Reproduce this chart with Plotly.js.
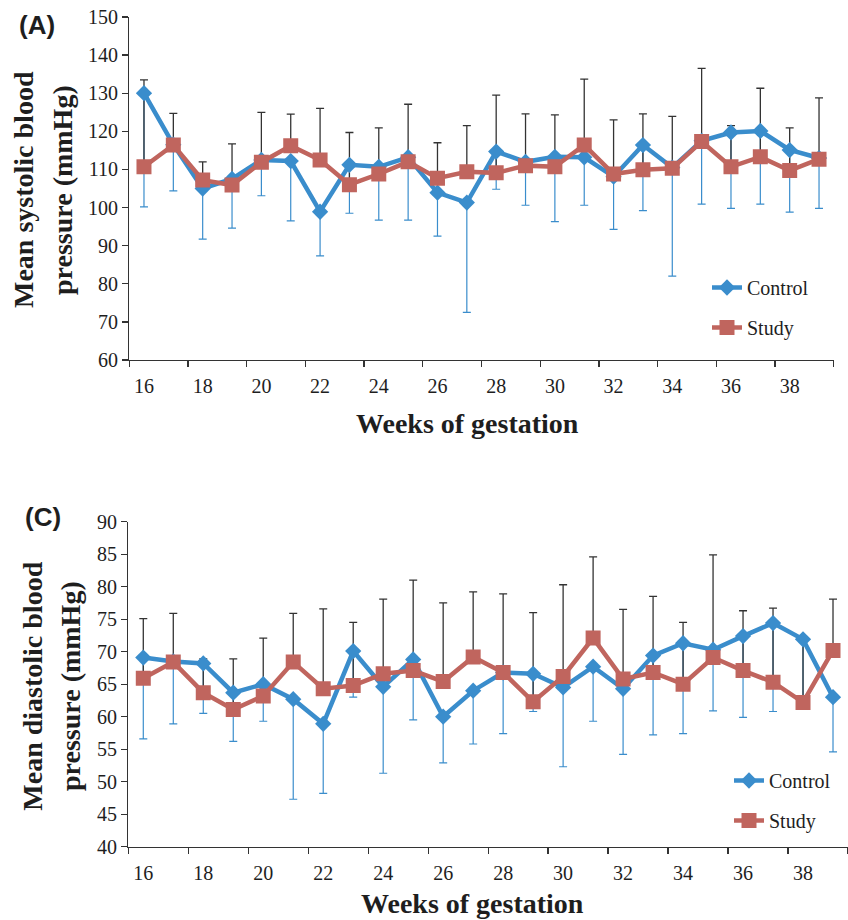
<!DOCTYPE html>
<html>
<head>
<meta charset="utf-8">
<script src="https://cdn.plot.ly/plotly-3.0.1.min.js"></script>
<style>
html,body{margin:0;padding:0;background:#fff;}
#chart{width:848px;height:920px;}
#chart text:not(.annotation-text),
#chart [class*="axislayer"] text,
#chart g.xtick text, #chart g.x2tick text, #chart g.ytick text, #chart g.y2tick text,
#chart text.legendtext { font-family: 'Liberation Serif', 'Times New Roman', serif !important; }
</style>
</head>
<body>
<div id="chart"></div>
<script>
// ---- data ----
const weeks = [16,17,18,19,20,21,22,23,24,25,26,27,28,29,30,31,32,33,34,35,36,37,38,39];
const weekTickVals = [16,18,20,22,24,26,28,30,32,34,36,38];
const weekTickText = ['16','18','20','22','24','26','28','30','32','34','36','38'];

// (A) systolic
const sbpControl = [130.0,116.5,105.0,107.5,112.5,112.2,98.9,111.2,110.7,113.2,103.9,101.3,114.7,112.0,113.3,113.2,108.1,116.4,110.5,117.5,119.7,120.1,115.1,113.0];
const sbpStudy   = [110.7,116.4,107.2,105.9,111.9,116.2,112.5,106.0,108.8,112.0,107.7,109.4,109.1,111.0,110.7,116.4,108.8,109.9,110.3,117.3,110.7,113.3,109.7,112.7];
const sbpUpper   = [133.5,124.7,112.0,116.7,125.0,124.5,126.0,119.7,120.9,127.1,117.0,121.5,129.5,124.6,124.3,133.7,123.0,124.6,123.9,136.5,121.5,131.3,120.9,128.8];
const sbpLower   = [100.2,104.4,91.7,94.6,103.1,96.5,87.3,98.5,96.7,96.7,92.5,72.5,104.8,100.6,96.3,100.6,94.3,99.2,82.0,100.9,99.8,100.9,98.8,99.8];

// (C) diastolic
const dbpControl = [69.1,68.5,68.2,63.7,65.0,62.7,58.9,70.1,64.6,68.8,60.0,64.0,66.8,66.6,64.5,67.7,64.3,69.4,71.3,70.3,72.4,74.4,71.9,63.0];
const dbpStudy   = [65.9,68.4,63.7,61.1,63.2,68.4,64.3,64.8,66.6,67.1,65.4,69.2,66.8,62.3,66.2,72.1,65.8,66.8,65.0,69.1,67.1,65.3,62.2,70.2];
const dbpUpper   = [75.1,75.9,68.9,68.9,72.1,75.9,76.6,74.5,78.1,81.0,77.5,79.2,78.9,76.0,80.3,84.6,76.5,78.5,74.5,84.9,76.3,76.7,71.9,78.1];
const dbpLower   = [56.6,58.9,60.5,56.2,59.3,47.3,48.2,63.0,51.3,59.5,52.9,55.8,57.4,60.8,52.3,59.3,54.2,57.2,57.4,60.9,59.9,60.8,62.5,54.6];

// ---- style ----
const W = 848, H = 920;
const px = v => v / W, py = v => 1 - v / H;
const BLUE = '#3a8dcc', RED = '#c0655e', DARK = '#333333', TXT = '#1e1e1e';
const SERIF = 'Liberation Serif, serif';
const SANS = 'Liberation Sans, sans-serif';
const zeros = weeks.map(() => 0);
const boundTicks = weekTickVals.map(w => w - 0.5).concat([weeks[weeks.length - 1] + 0.5]);

function panelTraces(ctrl, study, upper, lower, xa, ya, leg) {
  return [
    { x: weeks, y: ctrl, xaxis: xa, yaxis: ya, mode: 'markers', showlegend: false, hoverinfo: 'skip',
      marker: { size: 1, opacity: 0 },
      error_y: { type: 'data', symmetric: false, array: zeros,
        arrayminus: ctrl.map((v, i) => v - lower[i]), color: BLUE, thickness: 1.2, width: 4 } },
    { x: weeks, y: study, xaxis: xa, yaxis: ya, mode: 'markers', showlegend: false, hoverinfo: 'skip',
      marker: { size: 1, opacity: 0 },
      error_y: { type: 'data', symmetric: false, array: upper.map((v, i) => v - study[i]),
        arrayminus: zeros, color: DARK, thickness: 1.3, width: 4 } },
    { x: weeks, y: ctrl, xaxis: xa, yaxis: ya, mode: 'lines+markers', name: 'Control',
      legend: leg, legendgroup: leg + 'c',
      line: { color: BLUE, width: 4.5 }, marker: { symbol: 'diamond', size: 12.5, color: BLUE } },
    { x: weeks, y: study, xaxis: xa, yaxis: ya, mode: 'lines+markers', name: 'Study',
      legend: leg, legendgroup: leg + 's',
      line: { color: RED, width: 4.5 }, marker: { symbol: 'square', size: 15, color: RED } }
  ];
}

const traces = [].concat(
  panelTraces(sbpControl, sbpStudy, sbpUpper, sbpLower, 'x', 'y', 'legend'),
  panelTraces(dbpControl, dbpStudy, dbpUpper, dbpLower, 'x2', 'y2', 'legend2')
);

const tickFont = { family: SERIF, size: 20, color: TXT };

function xAxis(domain, anchor) {
  return {
    domain: domain, anchor: anchor, range: [15.5, 39.5], showgrid: false, zeroline: false,
    showline: true, linecolor: DARK, linewidth: 1.3,
    tickmode: 'array', tickvals: weekTickVals, ticktext: weekTickText,
    ticks: 'outside', ticklen: 8, tickcolor: 'rgba(0,0,0,0)',
    tickfont: tickFont,
    minor: { tickmode: 'array', tickvals: boundTicks, ticks: 'outside', ticklen: 6, tickcolor: DARK, tickwidth: 1.3, showgrid: false },
    fixedrange: true
  };
}
function yAxis(domain, anchor, range, dtick) {
  return {
    domain: domain, anchor: anchor, range: range, dtick: dtick, tick0: range[0], tickmode: 'linear',
    showgrid: false, zeroline: false,
    showline: true, linecolor: DARK, linewidth: 1.3,
    ticks: 'outside', ticklen: 6, tickcolor: DARK, tickwidth: 1.3,
    tickfont: tickFont, fixedrange: true
  };
}

const legendBase = {
  bgcolor: 'rgba(0,0,0,0)', font: { family: SERIF, size: 20, color: TXT },
  traceorder: 'grouped', tracegroupgap: 11, xanchor: 'left', yanchor: 'top', itemsizing: 'trace'
};

function ann(text, x, y, size, family, angle) {
  const a = { text: text, xref: 'paper', yref: 'paper', x: px(x), y: py(y), xanchor: 'center', yanchor: 'middle',
    showarrow: false, font: { family: family, size: size, color: TXT } };
  if (angle) a.textangle = angle;
  return a;
}

const layout = {
  width: W, height: H, margin: { l: 0, r: 0, t: 0, b: 0 },
  paper_bgcolor: '#fff', plot_bgcolor: '#fff',
  font: { family: SERIF, size: 20, color: TXT },
  xaxis: xAxis([px(129.3), px(833.7)], 'y'),
  yaxis: yAxis([py(360), py(17)], 'x', [60, 150], 10),
  xaxis2: xAxis([px(128.3), 1.0], 'y2'),
  yaxis2: yAxis([py(846.7), py(521.7)], 'x2', [40, 90], 5),
  legend: Object.assign({}, legendBase, { x: px(707), y: py(268) }),
  legend2: Object.assign({}, legendBase, { x: px(729), y: py(761) }),
  annotations: [
    ann('<b>(A)</b>', 37, 25, 26, SANS),
    ann('<b>(C)</b>', 43, 517, 26, SANS),
    ann('<b>Mean systolic blood</b>', 23, 190, 28, SERIF, -90),
    ann('<b>pressure (mmHg)</b>', 62, 190, 28, SERIF, -90),
    ann('<b>Mean diastolic blood</b>', 31.7, 686, 28, SERIF, -90),
    ann('<b>pressure (mmHg)</b>', 70, 686, 28, SERIF, -90),
    ann('<b>Weeks of gestation</b>', 467, 423, 28, SERIF),
    ann('<b>Weeks of gestation</b>', 473, 903, 28, SERIF)
  ],
  showlegend: true
};

Plotly.newPlot('chart', traces, layout, { staticPlot: true, displayModeBar: false });
</script>
</body>
</html>
